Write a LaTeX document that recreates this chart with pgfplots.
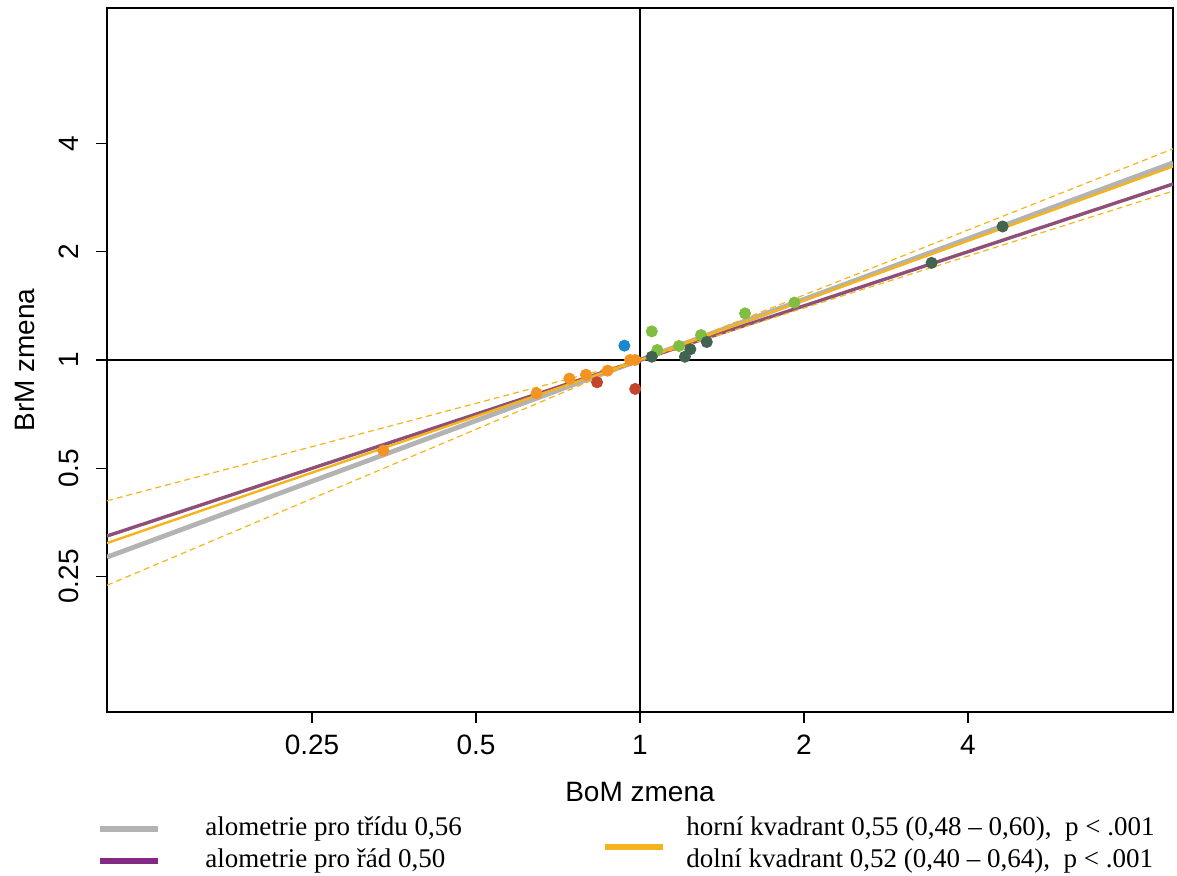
\documentclass[border=0pt]{standalone}
\usepackage{fontspec}
\setmainfont{Liberation Serif}
\setsansfont{Liberation Sans}
\usepackage{pgfplots}
\pgfplotsset{compat=1.18}

\definecolor{linegray}{HTML}{B3B3B3}
\definecolor{linepurple}{HTML}{8E4F78}
\definecolor{legpurple}{HTML}{832A87}
\definecolor{lineyellow}{HTML}{F5B41E}
\definecolor{ptorange}{HTML}{F39322}
\definecolor{ptred}{HTML}{C4452C}
\definecolor{ptblue}{HTML}{1A87CF}
\definecolor{ptlgreen}{HTML}{80BD41}
\definecolor{ptdgreen}{HTML}{42634F}

\begin{document}
\begin{tikzpicture}
\useasboundingbox (-53.5pt,-82pt) rectangle (535pt,356pt);
\begin{axis}[
    scale only axis,
    width=533pt, height=352pt,
    xmode=log, ymode=log,
    log basis x=2, log basis y=2,
    xmin=0.10511, xmax=9.5137,
    ymin=0.10511, ymax=9.5137,
    xtick={0.25,0.5,1,2,4}, xticklabels={0.25,0.5,1,2,4},
    ytick={0.25,0.5,1,2,4}, yticklabels={0.25,0.5,1,2,4},
    minor xtick={}, minor ytick={},
    xtick pos=bottom, ytick pos=left,
    tick align=outside,
    major tick length=5.5pt,
    axis line style={line width=0.7pt},
    tick style={black, line width=0.7pt},
    ticklabel style={font=\sffamily\fontsize{14}{14}\selectfont},
    xticklabel style={inner ysep=6pt},
    yticklabel style={rotate=90, anchor=south, inner ysep=8.5pt},
    xlabel={BoM zmena}, ylabel={BrM zmena},
    label style={font=\sffamily\fontsize{14}{14}\selectfont},
    xlabel style={at={(axis description cs:0.5,-0.1136)}, anchor=center},
    ylabel style={at={(axis description cs:-0.0769,0.5)}, anchor=center},
]
% reference cross at 1,1
\addplot[black, line width=0.7pt] coordinates {(1,0.10511) (1,9.5137)};
\addplot[black, line width=0.7pt] coordinates {(0.10511,1) (9.5137,1)};

% allometry lines
\addplot[linegray, line width=2.4pt] coordinates {(0.10511,0.2832) (9.5137,3.531)};
\addplot[linepurple, line width=1.7pt] coordinates {(0.10511,0.3242) (9.5137,3.084)};
% quadrant fits
\addplot[lineyellow, line width=1.2pt] coordinates {(0.10511,0.3099) (1,1)};
\addplot[lineyellow, line width=1.2pt] coordinates {(1,1) (9.5137,3.452)};
\addplot[lineyellow, line width=0.6pt, dash pattern=on 3pt off 2pt] coordinates {(0.10511,0.4061) (1,1)};
\addplot[lineyellow, line width=0.6pt, dash pattern=on 3pt off 2pt] coordinates {(0.10511,0.2365) (1,1)};
\addplot[lineyellow, line width=0.6pt, dash pattern=on 3pt off 2pt] coordinates {(1,1) (9.5137,3.864)};
\addplot[lineyellow, line width=0.6pt, dash pattern=on 3pt off 2pt] coordinates {(1,1) (9.5137,2.948)};

% points
\addplot[only marks, mark=*, mark size=2.8pt, color=ptorange] coordinates {
    (0.338,0.560) (0.646,0.808) (0.742,0.888) (0.796,0.910)
    (0.872,0.934) (0.959,1.000) (0.979,1.000)};
\addplot[only marks, mark=*, mark size=2.8pt, color=ptred] coordinates {
    (0.834,0.867) (0.980,0.831)};
\addplot[only marks, mark=*, mark size=2.8pt, color=ptblue] coordinates {
    (0.936,1.096)};
\addplot[only marks, mark=*, mark size=2.8pt, color=ptlgreen] coordinates {
    (1.051,1.201) (1.076,1.066) (1.179,1.094) (1.294,1.173)
    (1.559,1.348) (1.921,1.444)};
\addplot[only marks, mark=*, mark size=2.8pt, color=ptdgreen] coordinates {
    (1.051,1.021) (1.209,1.021) (1.237,1.071) (1.326,1.122)
    (3.43,1.862) (4.63,2.35)};
\end{axis}

% legend
\draw[linegray, line width=3pt] (-3.5pt,-58.5pt) -- (25.5pt,-58.5pt);
\draw[legpurple, line width=3pt] (-3.5pt,-74.5pt) -- (25.5pt,-74.5pt);
\draw[lineyellow, line width=3pt] (249pt,-67.5pt) -- (278pt,-67.5pt);
\begin{scope}[every node/.style={anchor=west, inner sep=0pt, font=\fontsize{13.5}{13.5}\selectfont}]
\node at (49pt,-58.5pt) {alometrie pro třídu 0,56};
\node at (49pt,-74.5pt) {alometrie pro řád 0,50};
\node at (289.5pt,-58.5pt) {horní kvadrant 0,55 (0,48 – 0,60),\ \ p {<} .001};
\node at (289.5pt,-74.5pt) {dolní kvadrant 0,52 (0,40 – 0,64),\ \ p {<} .001};
\end{scope}
\end{tikzpicture}
\end{document}
